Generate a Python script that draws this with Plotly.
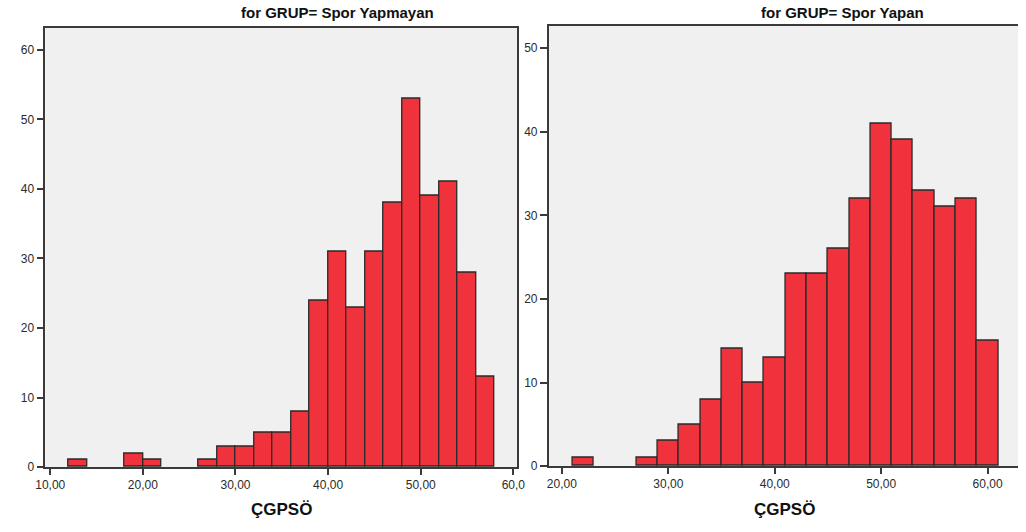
import plotly.graph_objects as go

# Left panel: GRUP = Spor Yapmayan (bins of width 2 starting at 12)
left_bin_starts = [12, 14, 16, 18, 20, 22, 24, 26, 28, 30, 32, 34, 36, 38, 40, 42, 44, 46, 48, 50, 52, 54, 56]
left_counts = [1, 0, 0, 2, 1, 0, 0, 1, 3, 3, 5, 5, 8, 24, 31, 23, 31, 38, 53, 39, 41, 28, 13]
left_xticks = [10, 20, 30, 40, 50, 60]
left_xticklabels = ["10,00", "20,00", "30,00", "40,00", "50,00", "60,0"]
left_yticks = [0, 10, 20, 30, 40, 50, 60]

# Right panel: GRUP = Spor Yapan (bins of width 2 starting at 21)
right_bin_starts = [21, 23, 25, 27, 29, 31, 33, 35, 37, 39, 41, 43, 45, 47, 49, 51, 53, 55, 57, 59]
right_counts = [1, 0, 0, 1, 3, 5, 8, 14, 10, 13, 23, 23, 26, 32, 41, 39, 33, 31, 32, 15]
right_xticks = [20, 30, 40, 50, 60]
right_xticklabels = ["20,00", "30,00", "40,00", "50,00", "60,00"]
right_yticks = [0, 10, 20, 30, 40, 50]

bin_width = 2
titles = ["for GRUP= Spor Yapmayan", "for GRUP= Spor Yapan"]
x_title = "ÇGPSÖ"

BAR_FILL = "#EF323B"
BAR_LINE = "#2a2a2a"
AXIS_COL = "#3a3a3a"
W, H = 1026, 532
FONT = "Liberation Sans, Arial, sans-serif"


def nz(vals):
    # empty bins are not drawn (no outline on the baseline)
    return [v if v != 0 else None for v in vals]


fig = go.Figure()
fig.add_trace(go.Bar(
    x=[s + bin_width / 2 for s in left_bin_starts], y=nz(left_counts), width=bin_width,
    marker=dict(color=BAR_FILL, line=dict(color=BAR_LINE, width=1.3)),
    xaxis="x", yaxis="y", showlegend=False, hoverinfo="x+y"))
fig.add_trace(go.Bar(
    x=[s + bin_width / 2 for s in right_bin_starts], y=nz(right_counts), width=bin_width,
    marker=dict(color=BAR_FILL, line=dict(color=BAR_LINE, width=1.3)),
    xaxis="x2", yaxis="y2", showlegend=False, hoverinfo="x+y"))

tickfont = dict(family=FONT, size=12, color="#2b2b2b")
common_ax = dict(showgrid=False, zeroline=False, showline=True, linecolor=AXIS_COL,
                 linewidth=1.5, ticks="outside", tickwidth=1.5,
                 tickcolor=AXIS_COL, tickfont=tickfont, fixedrange=True)

fig.update_layout(
    width=W, height=H,
    margin=dict(l=0, r=0, t=0, b=0),
    paper_bgcolor="white",
    plot_bgcolor="#F0F0F0",
    bargap=0,
    xaxis=dict(domain=[36 / W, 516 / W], range=[9.47, 60.39], tickvals=left_xticks,
               ticktext=left_xticklabels, mirror=True, anchor="y", ticklen=6, **common_ax),
    yaxis=dict(domain=[(H - 473.3) / H, (H - 28) / H], range=[0, 63.2], tickvals=left_yticks,
               mirror=True, anchor="x", ticklen=7, **common_ax),
    xaxis2=dict(domain=[548.3 / W, 1.0], range=[18.76, 62.86], tickvals=right_xticks,
                ticktext=right_xticklabels, mirror=True, anchor="y2", ticklen=6, **common_ax),
    yaxis2=dict(domain=[(H - 472.3) / H, (H - 26) / H], range=[0, 52.7], tickvals=right_yticks,
                mirror=False, anchor="x2", ticklen=7, **common_ax),
    annotations=[
        dict(text="<b>%s</b>" % titles[0], x=333 / W, y=(H - 13) / H, xref="paper", yref="paper",
             showarrow=False, xanchor="center", yanchor="middle",
             font=dict(family=FONT, size=15, color="#111")),
        dict(text="<b>%s</b>" % titles[1], x=847 / W, y=(H - 13) / H, xref="paper", yref="paper",
             showarrow=False, xanchor="center", yanchor="middle",
             font=dict(family=FONT, size=15, color="#111")),
        dict(text="<b>%s</b>" % x_title, x=276 / W, y=(H - 516) / H, xref="paper", yref="paper",
             showarrow=False, xanchor="center", yanchor="middle",
             font=dict(family=FONT, size=17, color="#111")),
        dict(text="<b>%s</b>" % x_title, x=788 / W, y=(H - 516) / H, xref="paper", yref="paper",
             showarrow=False, xanchor="center", yanchor="middle",
             font=dict(family=FONT, size=17, color="#111")),
    ],
)

fig.write_html("out.html", config={"displayModeBar": False})
